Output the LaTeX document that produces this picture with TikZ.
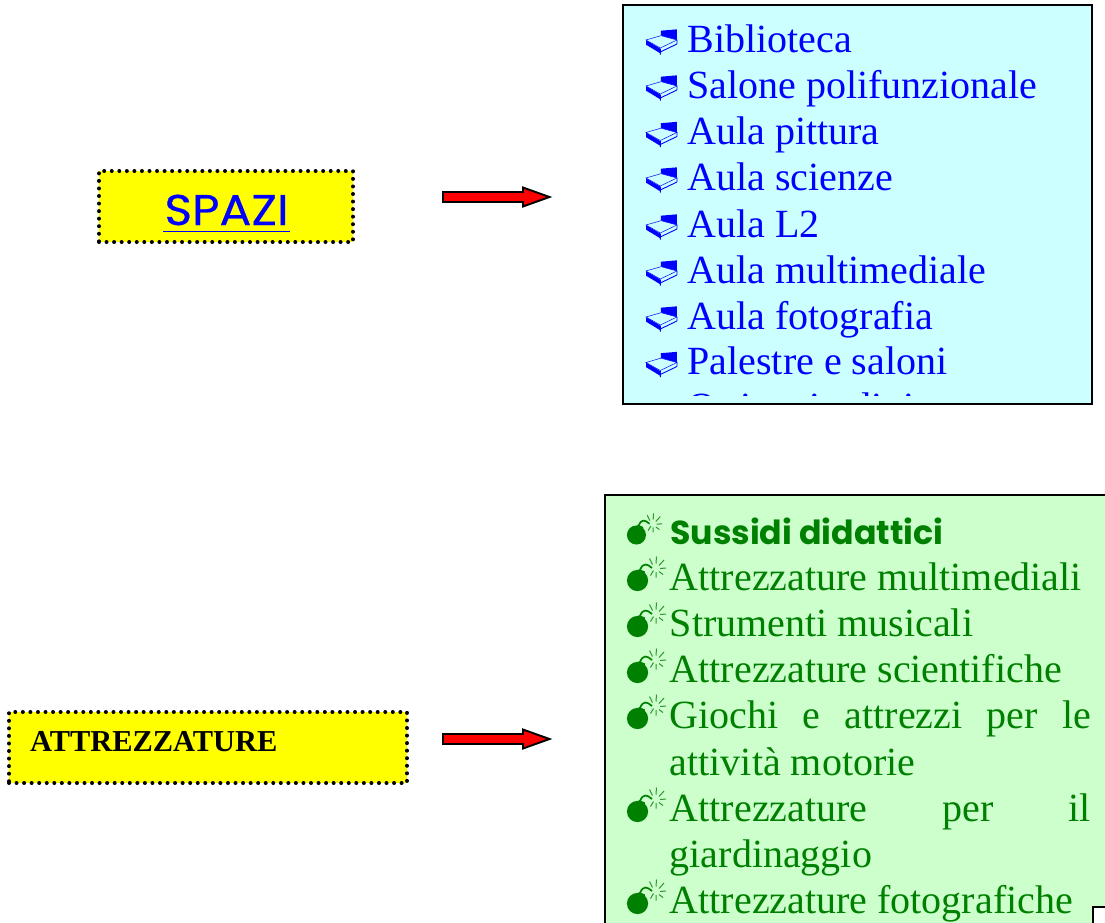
\documentclass[tikz,border=0pt]{standalone}
\usepackage{fontspec}
\setmainfont{Liberation Serif}
\newfontfamily\comicfont{Poppins}
\newfontfamily\comicwide[FakeStretch=1.1,FakeBold=0.4]{Poppins}
\definecolor{boxyellow}{HTML}{FFFF00}
\definecolor{arrowred}{HTML}{FF0000}
\definecolor{cyanbox}{HTML}{CCFFFF}
\definecolor{greenbox}{HTML}{CCFFCC}
\definecolor{listgreen}{HTML}{008000}
\definecolor{listblue}{HTML}{0000FF}
\definecolor{sparkgreen}{HTML}{2F962F}
\tikzset{
  dotbox/.style={fill=boxyellow,draw=black,line width=4pt,line cap=round,dash pattern=on 0pt off 7.55pt},
  listbox/.style={draw=black,line width=1.9pt},
  blockarrow/.style={fill=arrowred,draw=black,line width=1.9pt,line join=miter},
  blueitem/.style={anchor=base west,inner sep=0pt,text=listblue,font=\fontsize{40}{46}\selectfont},
  greenitem/.style={anchor=base west,inner sep=0pt,text=listgreen,font=\fontsize{40}{46}\selectfont},
  bed/.pic={
    \begin{scope}[x=0.333pt,y=-0.333pt,shift={(-17,-5)}]
      \fill[listblue] (62,10) -- (110,6) -- (110,38) -- (92,35) -- (62,24) -- cycle;
      \fill[listblue] (17,38) -- (60,64) -- (60,78) -- (17,52) -- cycle;
      \draw[listblue,line width=0.5pt,fill=cyanbox] (17,38) -- (62,25) -- (110,38) -- (60,62) -- cycle;
      \draw[listblue,line width=0.9pt] (60,64) -- (60,82) (60,74) -- (110,50) (110,38) -- (110,50);
    \end{scope}
  },
  bomb/.pic={
    \fill[listgreen] (0.5,0) circle (10.6);
    \fill[listgreen] (2,-11.5) -- (8,-9) -- (7,-4) -- (0,-8) -- cycle;
    \draw[listgreen,line width=1.7pt] (3,-10.5) .. controls (6,-18) and (10,-17) .. (15,-12.5);
    \draw[sparkgreen,line width=1pt]
      (19,-17) -- (19.5,-24) (22,-15) -- (27,-20.5) (23,-12) -- (29,-12.5)
      (22,-9) -- (26,-6) (19,-8.5) -- (19,-3) (16.5,-10) -- (13.5,-5) (15.5,-16) -- (12.5,-22);
  }
}
\begin{document}
\begin{tikzpicture}[x=1pt,y=-1pt]
\useasboundingbox (0,0) rectangle (1105,922);
\clip (0,0) rectangle (1105,922);
% top row
\node[dotbox,minimum width=254pt,minimum height=71pt,inner sep=0pt] (spaziBox) at (226,206.5) {};
\node[anchor=base,inner sep=0pt,text=listblue,font=\fontsize{43}{46}\selectfont\comicwide] (spaziLabel) at (226.5,225) {SPAZI};
\draw[listblue,line width=1pt] ([yshift=-6pt,xshift=-1pt]spaziLabel.base west) -- ([yshift=-6pt,xshift=1pt]spaziLabel.base east);
\draw[listbox,fill=cyanbox] (623,5) rectangle (1092,404);
\coordinate (a1) at (443,197);
\draw[blockarrow] (a1) ++(0,-5) -- ++(80,0) -- ++(0,-4.5) -- ++(26.5,9.5) -- ++(-26.5,9.5) -- ++(0,-4.5) -- ++(-80,0) -- cycle;
\begin{scope}
\clip (620,0) rectangle (1090,395);
\node[blueitem] (s1) at (687.3,52) {Biblioteca};
\node[blueitem] (s2) at (687.3,98) {Salone polifunzionale};
\node[blueitem] (s3) at (687.3,144.5) {Aula pittura};
\node[blueitem] (s4) at (687.3,190) {Aula scienze};
\node[blueitem] (s5) at (687.3,237) {Aula L2};
\node[blueitem] (s6) at (687.3,283) {Aula multimediale};
\node[blueitem] (s7) at (687.3,329) {Aula fotografia};
\node[blueitem] (s8) at (687.3,374.5) {Palestre e saloni};
\node[blueitem] (s9) at (687.3,420.5) {Orti e giardini};
\end{scope}
\pic at (646,29) {bed};
\pic at (646,75) {bed};
\pic at (646,121.5) {bed};
\pic at (646,167) {bed};
\pic at (646,214) {bed};
\pic at (646,260) {bed};
\pic at (646,306) {bed};
\pic at (646,351.5) {bed};
% bottom row
\node[dotbox,minimum width=398pt,minimum height=71pt,inner sep=0pt] (attrBox) at (208,747.5) {};
\node[anchor=base west,inner sep=0pt,font=\fontsize{30.4}{34}\selectfont\bfseries] (attrLabel) at (30,751) {ATTREZZATURE};
\coordinate (a2) at (443,739);
\draw[blockarrow] (a2) ++(0,-5) -- ++(80,0) -- ++(0,-4.5) -- ++(26.5,9.5) -- ++(-26.5,9.5) -- ++(0,-4.5) -- ++(-80,0) -- cycle;
\draw[listbox,fill=greenbox] (605,495) rectangle (1115,935);
\node[greenitem,font=\fontsize{33.2}{34}\selectfont\bfseries\comicfont] (g1) at (670,544) {Sussidi didattici};
\node[greenitem] (g2) at (669.6,590) {Attrezzature multimediali};
\node[greenitem] (g3) at (669.6,636.5) {Strumenti musicali};
\node[greenitem] (g4) at (669.6,682) {Attrezzature scientifiche};
\node[greenitem] (g5) at (669.6,728.5) {\makebox[421pt][s]{Giochi\hfill e\hfill attrezzi\hfill per\hfill le}};
\node[greenitem] (g6) at (669.6,775) {attività motorie};
\node[greenitem] (g7) at (669.6,821) {\makebox[421pt][s]{Attrezzature\hfill per\hfill il}};
\node[greenitem] (g8) at (669.6,867) {giardinaggio};
\node[greenitem] (g9) at (669.6,913) {Attrezzature fotografiche};
\pic[scale=0.9] at (636,535) {bomb};
\pic at (637,580.5) {bomb};
\pic at (637,626.5) {bomb};
\pic at (637,672.5) {bomb};
\pic at (637,718.5) {bomb};
\pic at (637,811.5) {bomb};
\pic at (637,903.5) {bomb};
\draw[listbox,fill=white] (1093,907) rectangle (1120,940);
\end{tikzpicture}
\end{document}
